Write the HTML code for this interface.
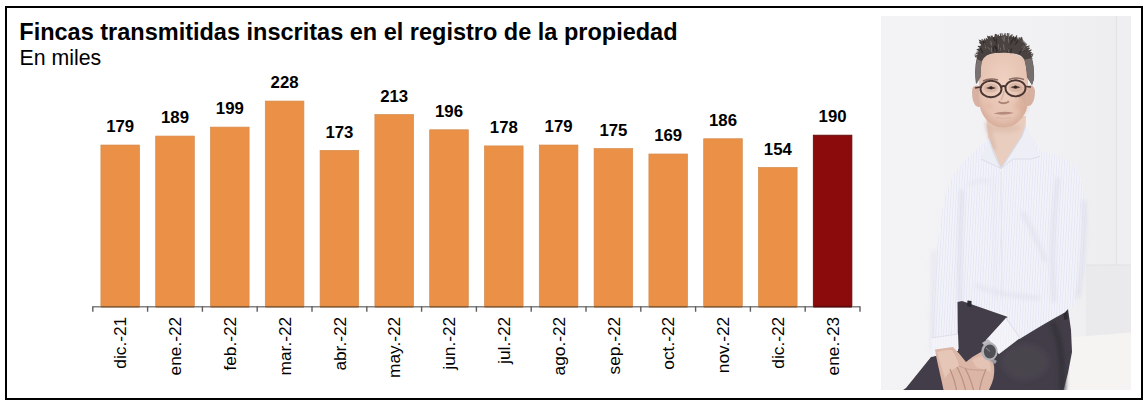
<!DOCTYPE html>
<html><head><meta charset="utf-8"><style>
html,body{margin:0;padding:0;background:#fff;}
body{width:1148px;height:406px;overflow:hidden;position:relative;}
svg{position:absolute;left:0;top:0;}
text{font-family:"Liberation Sans",sans-serif;}
</style></head><body>
<svg width="1148" height="406" viewBox="0 0 1148 406">
<rect x="0" y="0" width="1148" height="406" fill="#fff"/>
<rect x="6" y="7" width="1136" height="392" fill="none" stroke="#000" stroke-width="2"/>
<text x="19.3" y="39.8" font-size="23.5" font-weight="bold" fill="#000">Fincas transmitidas inscritas en el registro de la propiedad</text>
<text x="19.6" y="64.6" font-size="21.3" fill="#000">En miles</text>
<g id="bars">
<rect x="100.90" y="145.04" width="38.6" height="161.16" fill="#EB9047" stroke="#d48a4c" stroke-width="0.7"/>
<rect x="155.70" y="136.07" width="38.6" height="170.13" fill="#EB9047" stroke="#d48a4c" stroke-width="0.7"/>
<rect x="210.50" y="127.10" width="38.6" height="179.10" fill="#EB9047" stroke="#d48a4c" stroke-width="0.7"/>
<rect x="265.30" y="101.08" width="38.6" height="205.12" fill="#EB9047" stroke="#d48a4c" stroke-width="0.7"/>
<rect x="320.10" y="150.42" width="38.6" height="155.78" fill="#EB9047" stroke="#d48a4c" stroke-width="0.7"/>
<rect x="374.90" y="114.54" width="38.6" height="191.66" fill="#EB9047" stroke="#d48a4c" stroke-width="0.7"/>
<rect x="429.70" y="129.79" width="38.6" height="176.41" fill="#EB9047" stroke="#d48a4c" stroke-width="0.7"/>
<rect x="484.50" y="145.93" width="38.6" height="160.27" fill="#EB9047" stroke="#d48a4c" stroke-width="0.7"/>
<rect x="539.30" y="145.04" width="38.6" height="161.16" fill="#EB9047" stroke="#d48a4c" stroke-width="0.7"/>
<rect x="594.10" y="148.63" width="38.6" height="157.57" fill="#EB9047" stroke="#d48a4c" stroke-width="0.7"/>
<rect x="648.90" y="154.01" width="38.6" height="152.19" fill="#EB9047" stroke="#d48a4c" stroke-width="0.7"/>
<rect x="703.70" y="138.76" width="38.6" height="167.44" fill="#EB9047" stroke="#d48a4c" stroke-width="0.7"/>
<rect x="758.50" y="167.46" width="38.6" height="138.74" fill="#EB9047" stroke="#d48a4c" stroke-width="0.7"/>
<rect x="813.30" y="135.17" width="38.6" height="171.03" fill="#8B0B0C" stroke="#5e0808" stroke-width="0.8"/>
</g>
<path d="M92.8 306.8H860.00" stroke="#828282" stroke-width="1.4" fill="none"/>
<path d="M100.90 306.8H139.50 M155.70 306.8H194.30 M210.50 306.8H249.10 M265.30 306.8H303.90 M320.10 306.8H358.70 M374.90 306.8H413.50 M429.70 306.8H468.30 M484.50 306.8H523.10 M539.30 306.8H577.90 M594.10 306.8H632.70 M648.90 306.8H687.50 M703.70 306.8H742.30 M758.50 306.8H797.10" stroke="#8f5c30" stroke-width="1.4" fill="none"/>
<path d="M813.30 306.8H851.90" stroke="#5a0a0a" stroke-width="1.4" fill="none"/>
<path d="M92.80 306.2V311.8 M147.60 306.2V311.8 M202.40 306.2V311.8 M257.20 306.2V311.8 M312.00 306.2V311.8 M366.80 306.2V311.8 M421.60 306.2V311.8 M476.40 306.2V311.8 M531.20 306.2V311.8 M586.00 306.2V311.8 M640.80 306.2V311.8 M695.60 306.2V311.8 M750.40 306.2V311.8 M805.20 306.2V311.8 M860.00 306.2V311.8" stroke="#5e5e5e" stroke-width="1.4" fill="none"/>
<g font-size="16.8" font-weight="bold" text-anchor="middle" fill="#000">
<text x="120.20" y="132.14">179</text>
<text x="175.00" y="123.17">189</text>
<text x="229.80" y="114.20">199</text>
<text x="284.60" y="88.18">228</text>
<text x="339.40" y="137.52">173</text>
<text x="394.20" y="101.64">213</text>
<text x="449.00" y="116.89">196</text>
<text x="503.80" y="133.03">178</text>
<text x="558.60" y="132.14">179</text>
<text x="613.40" y="135.73">175</text>
<text x="668.20" y="141.11">169</text>
<text x="723.00" y="125.86">186</text>
<text x="777.80" y="154.56">154</text>
<text x="832.60" y="122.27">190</text>
</g>
<g font-size="17.3" text-anchor="end" fill="#000">
<text transform="translate(126.40,316.8) rotate(-90)">dic.-21</text>
<text transform="translate(181.20,316.8) rotate(-90)">ene.-22</text>
<text transform="translate(236.00,316.8) rotate(-90)">feb.-22</text>
<text transform="translate(290.80,316.8) rotate(-90)">mar.-22</text>
<text transform="translate(345.60,316.8) rotate(-90)">abr.-22</text>
<text transform="translate(400.40,316.8) rotate(-90)">may.-22</text>
<text transform="translate(455.20,316.8) rotate(-90)">jun.-22</text>
<text transform="translate(510.00,316.8) rotate(-90)">jul.-22</text>
<text transform="translate(564.80,316.8) rotate(-90)">ago.-22</text>
<text transform="translate(619.60,316.8) rotate(-90)">sep.-22</text>
<text transform="translate(674.40,316.8) rotate(-90)">oct.-22</text>
<text transform="translate(729.20,316.8) rotate(-90)">nov.-22</text>
<text transform="translate(784.00,316.8) rotate(-90)">dic.-22</text>
<text transform="translate(838.80,316.8) rotate(-90)">ene.-23</text>
</g>
<!--PHOTO-->
<g id="photo">
<defs>
<clipPath id="pc"><rect x="881" y="16" width="250" height="374"/></clipPath>
<filter id="bl" x="-5%" y="-5%" width="110%" height="110%"><feGaussianBlur stdDeviation="0.7"/></filter>
<filter id="bl2" filterUnits="userSpaceOnUse" x="870" y="0" width="280" height="406"><feGaussianBlur stdDeviation="2"/></filter>
<linearGradient id="wall" x1="0" y1="0" x2="1" y2="0">
<stop offset="0" stop-color="#f3f3f6"/><stop offset="0.7" stop-color="#f1f1f4"/><stop offset="1" stop-color="#ececef"/>
</linearGradient>
<pattern id="stripes" width="2.6" height="10" patternUnits="userSpaceOnUse" patternTransform="rotate(3)">
<rect width="2.6" height="10" fill="#f2f2f9"/><rect width="0.6" height="10" fill="#e1e3f2"/>
</pattern>
<radialGradient id="skin" cx="0.5" cy="0.4" r="0.6">
<stop offset="0" stop-color="#efd1c2"/><stop offset="0.8" stop-color="#e6c3b2"/><stop offset="1" stop-color="#d9ae9c"/>
</radialGradient>
</defs>
<g clip-path="url(#pc)">
<rect x="881" y="16" width="250" height="374" fill="url(#wall)"/>
<rect x="1117" y="16" width="14" height="320" fill="#efeff1"/>
<rect x="1116" y="16" width="1.2" height="320" fill="#e3e3e6"/>
<rect x="1086" y="265" width="45" height="72" fill="#eaeaed"/>
<rect x="1086" y="264.5" width="45" height="1" fill="#e2e2e5"/>
<!-- bench -->
<path d="M1062 338 L1131 332.5 L1131 390 L1055 390 Z" fill="#f5f4f2"/>
<g filter="url(#bl)">
<!-- neck -->
<path d="M986 116 L1026 116 L1025.5 128 L1022 136 L1001 168.5 L988.5 140 Z" fill="#e9cebf"/>
<ellipse cx="1004" cy="128" rx="17" ry="4.5" fill="#d6b19f" opacity="0.45" filter="url(#bl2)"/>
<path d="M987 122 Q990 134 994 150" stroke="#d6b2a2" stroke-width="3" fill="none" filter="url(#bl2)"/>
<!-- shirt body -->
<path d="M988.5 138 L960 165 Q948 180 943.5 202 Q936 245 932 300 L931 357 L958 351 L960 307 L1000 312 L1065 310 L1071 308 Q1080 300 1084 262 Q1088 220 1084 190 Q1078 168 1068 160 L1040 150 L1025.5 126 L1022 136 L1001 168.5 Z" fill="url(#stripes)"/>
<!-- collar -->
<path d="M988.5 138 L981 159 L1001 168.5 L994 154 Z" fill="#eceef6"/>
<path d="M988.5 138 L994 154 L1001 168.5" stroke="#dadbe6" stroke-width="1.2" fill="none"/>
<path d="M1025.5 126 L1040 156.5 L1031 159 L1013 159 L1001 168.5 L1022 136 Z" fill="#edeef6"/>
<path d="M1025.5 126 L1022 136 L1001 168.5" stroke="#d8d9e5" stroke-width="1.2" fill="none"/>
<path d="M981 159 L1001 168.5 L1013 159 L1031 159 L1040 156.5" stroke="#dcdde8" stroke-width="1" fill="none"/>
<path d="M994 175 L995 300" stroke="#e2e3ee" stroke-width="1.2" fill="none" filter="url(#bl2)"/>
<path d="M1001 172 L1002 300" stroke="#e4e5ef" stroke-width="1" fill="none"/>
<path d="M1022 212 Q1034 232 1046 262" stroke="#dfe0eb" stroke-width="3" fill="none" filter="url(#bl2)"/>
<path d="M975 285 Q1000 296 1040 298" stroke="#e0e1ec" stroke-width="3" fill="none" filter="url(#bl2)"/>
<path d="M968 185 Q980 178 990 182" stroke="#e3e4ee" stroke-width="2.5" fill="none" filter="url(#bl2)"/>
<path d="M962 190 Q959 250 960 306" stroke="#d9dbe7" stroke-width="3" fill="none" filter="url(#bl2)"/>
<path d="M934 250 Q933 300 932 350" stroke="#dfe0ea" stroke-width="2.5" fill="none" filter="url(#bl2)"/>
<path d="M1058 178 Q1050 240 1054 302" stroke="#dcdde9" stroke-width="3" fill="none" filter="url(#bl2)"/>
<path d="M1084 200 Q1086 250 1078 298" stroke="#dadbe6" stroke-width="3" fill="none" filter="url(#bl2)"/>
<!-- trousers -->
<path d="M957.5 302 L962 301 L1008 317 L1068 309 L1071 330 L1072 352 L1068 373 L1063 392 L900 392 L906 388 L931 357 L958 351 Z" fill="#423e48"/>
<ellipse cx="1025" cy="362" rx="24" ry="18" fill="#4b4751" opacity="0.7" filter="url(#bl2)"/>
<path d="M1052 322 Q1064 345 1062 392" stroke="#36333b" stroke-width="6" fill="none" filter="url(#bl2)"/>
<path d="M967 306 L967.5 300.5 L971.5 301 L971.5 307.5 Z" fill="#2c2a30"/>
<path d="M1063 310 L1067 309 L1068 319 L1064 320 Z" fill="#2e2c33"/>
<!-- right sleeve over trousers -->
<path d="M995 300 L1070 305 L1068 309 Q1066 311 1064.8 312.5 Q1047 322 1019.5 339 L1006 318 L1008 317 Z" fill="url(#stripes)"/>
<!-- right cuff -->
<path d="M986 340 L1006 318 L1020 338 L999 354 Z" fill="url(#stripes)"/>
<path d="M986 340 L1006 318 L1020 338 L999 354 Z" fill="#f6f6fa" opacity="0.5"/>
<path d="M1006 318 L1020 338" stroke="#dcdde8" stroke-width="1" fill="none"/>
<!-- left cuff -->
<path d="M931 338 L958 334 L958.5 349 L932 356.5 Z" fill="url(#stripes)"/>
<path d="M931 338 L958 334 L958.5 349 L932 356.5 Z" fill="#f6f6fa" opacity="0.5"/>
<path d="M931 338 L958 334" stroke="#dfe0ea" stroke-width="1" fill="none"/>
<!-- hands -->
<path d="M935 349.4 L953 347 Q960 354 966 362 Q973 356 981 352 L985 354 Q991 357 993 361 Q996 372 992 383 L988 392 L944 392 Q941 378 938 365 Q936 356 935 349.4 Z" fill="#dbb6a6"/>
<path d="M937 352 Q945 349.5 952 350 Q957 357 959 366 Q951 369 945 378 Q941 366 937 352 Z" fill="#e6c6b7"/>
<path d="M972 360 Q980 355 986 357 Q991 362 991 372 Q984 370 976 367 Z" fill="#e4c3b4"/>
<path d="M950 369 Q955 380 957 392 M957 367 Q963 378 966 392 M965 368 Q971 379 974 392 M986 369 Q981 380 979 392" stroke="#bb907f" stroke-width="1.2" fill="none"/>
<path d="M959 366 Q968 371 985 370" stroke="#c89e8e" stroke-width="1" fill="none"/>
<!-- watch -->
<path d="M982 343 L988 339 L992 343 L986 347 Z" fill="#bdbdc1"/>
<path d="M992 358 L997 361 L995 364 L990 361 Z" fill="#9a9aa0"/>
<ellipse cx="989.5" cy="351.5" rx="8.2" ry="9.3" fill="#b2b2b6"/>
<ellipse cx="989.8" cy="351.5" rx="6" ry="7" fill="#4f4f57"/>
<path d="M986 348 L990 351.5" stroke="#9a9aa2" stroke-width="0.8"/>
</g>
<!-- head -->
<g filter="url(#bl)">
<!-- ears -->
<path d="M979 86 Q972 84 972 92 Q972 102 976 106 Q979 108 981 106 Z" fill="#d7b1a1"/>
<path d="M1027 86 Q1034 83 1035 91 Q1035 101 1031 105 Q1028 107 1026 105 Z" fill="#d7b1a1"/>
<!-- face -->
<path d="M979 70 Q979 53 1003 52 Q1027 53 1028 70 L1028 100 Q1027.5 111 1022 118 Q1014 127.5 1003 127.5 Q992 127.5 985 118 Q979.5 111 979 100 Z" fill="url(#skin)"/>
<path d="M1018 95 Q1026 100 1024 112 Q1020 120 1012 125 Q1022 118 1027 105 L1028 92 Z" fill="#d9b6a6" opacity="0.8"/>
<ellipse cx="1023" cy="100" rx="5" ry="14" fill="#d2a690" opacity="0.55" filter="url(#bl2)"/>
<ellipse cx="988" cy="106" rx="5" ry="4" fill="#e4b4a3" opacity="0.5" filter="url(#bl2)"/>
<ellipse cx="1018" cy="106" rx="5" ry="4" fill="#dfae9c" opacity="0.5" filter="url(#bl2)"/>
<!-- hair -->
<path d="M976 84 Q974 68 977 57 Q979 47 983.4 40.6 Q989 38 995 36.8 Q1000 35.6 1005 35.8 Q1011 36.2 1015.2 37.8 Q1020 39.5 1023.6 42.8 Q1027 46 1028.8 50.5 Q1031 54 1032 58.2 Q1034.5 67 1034 79 L1032 85 L1027 77 Q1026.5 66 1024.4 59.8 Q1022 56.5 1020.3 55.6 Q1017 54 1013.6 53.5 Q1008 52.6 1003.5 52.7 Q999 52.8 995.1 53.1 Q990 54 986.8 55.6 Q983 58 981.7 61.5 Q980.3 67 980.5 76 Z" fill="#4a4240"/>
<path d="M981 44 L978.5 39.5 L985 41.5 Z M988 39.5 L987 35.5 L992 38 Z M1019 40 L1022 36.5 L1023 41.5 Z" fill="#4a4240"/>
<path d="M978.5 57.3L975.4 56.6 M978.8 55.7L974.9 55.0 M979.2 54.2L976.1 53.2 M979.6 52.7L977.1 51.9 M980.0 51.2L977.1 49.5 M980.5 49.7L978.2 49.1 M981.1 48.2L979.0 47.0 M981.7 46.8L978.3 46.4 M982.4 45.3L979.7 42.5 M983.1 44.0L980.2 42.0 M983.9 42.6L981.5 41.8 M984.2 41.9L982.1 39.5 M985.6 41.3L984.3 39.0 M987.1 40.7L986.2 38.5 M988.6 40.1L988.2 37.1 M990.1 39.6L989.4 36.5 M991.6 39.2L991.0 36.0 M993.1 38.8L992.0 35.9 M994.6 38.4L995.3 34.5 M996.2 38.1L996.0 34.3 M997.8 37.8L996.9 35.1 M999.3 37.5L998.3 35.0 M1000.8 37.4L1000.3 33.7 M1002.4 37.3L1002.0 33.5 M1004.0 37.3L1005.1 33.5 M1005.5 37.3L1005.4 35.1 M1007.1 37.5L1007.4 33.6 M1008.6 37.7L1008.9 33.6 M1010.2 38.0L1010.8 35.6 M1011.7 38.3L1012.0 34.6 M1013.2 38.7L1013.7 36.3 M1014.6 39.2L1016.7 35.8 M1016.1 39.7L1016.8 37.4 M1017.5 40.4L1018.1 38.1 M1018.8 41.1L1019.9 37.6 M1020.1 41.9L1021.9 39.1 M1021.3 42.8L1023.2 41.0 M1022.5 43.8L1024.3 42.1 M1023.5 44.9L1025.3 43.1 M1024.5 46.0L1026.4 44.1 M1025.4 47.2L1029.1 45.9 M1026.2 48.5L1028.9 47.7 M1026.9 49.9L1029.3 48.6 M1027.6 51.5L1031.1 49.9 M1028.4 52.8L1030.7 52.2 M1029.1 54.2L1031.4 52.8 M1029.6 55.6L1032.9 53.9 M1030.1 57.0L1032.5 55.7 M1032.0 58.2L1032.0 58.2" stroke="#4a4240" stroke-width="1.1" stroke-linecap="round" fill="none"/>
<path d="M993.2 47.6L991.6 44.4 M1023.8 51.1L1025.1 48.4 M1022.6 47.7L1024.0 45.3 M993.8 51.2L993.0 48.1 M1007.7 51.6L1008.4 48.5 M1008.3 40.1L1008.5 35.4 M982.8 52.6L980.3 48.4 M985.5 46.7L983.5 42.4 M998.2 49.0L998.8 44.3 M1010.7 44.1L1011.9 40.3 M1015.5 44.2L1017.6 40.9 M1004.1 41.7L1004.7 38.0 M995.8 48.9L994.4 46.3 M997.0 48.7L995.4 45.5 M1008.8 43.1L1008.3 39.4 M994.7 40.7L993.6 37.7 M996.5 51.4L997.0 47.8 M1002.9 38.4L1003.6 35.4 M1019.1 53.3L1021.0 51.0 M1014.9 40.9L1015.5 37.6 M1000.1 50.7L1000.6 48.0 M1010.8 52.6L1011.3 48.7 M1012.0 41.3L1013.9 37.2 M1027.1 53.6L1030.3 50.5 M985.8 45.1L983.4 41.3 M997.4 50.6L996.0 48.1 M992.2 46.4L989.9 42.8 M996.3 44.1L996.4 39.3 M1008.4 41.2L1009.0 37.5" stroke="#2f2826" stroke-width="1.1" stroke-linecap="round" fill="none"/>
<path d="M1008.4 51.9L1008.1 49.0 M1022.6 47.7L1024.0 45.3 M990.1 49.5L987.8 47.4 M1008.3 40.1L1008.5 35.4 M1004.2 49.7L1003.5 44.7 M998.2 49.0L998.8 44.3 M985.7 48.2L984.7 43.6 M1004.1 41.7L1004.7 38.0 M1023.7 48.6L1026.4 44.7 M1008.8 43.1L1008.3 39.4 M991.8 44.6L990.7 41.1 M1002.9 38.4L1003.6 35.4 M1003.9 40.9L1002.4 37.5 M1000.1 50.7L1000.6 48.0 M1022.4 50.7L1025.5 48.7 M1027.1 53.6L1030.3 50.5 M1004.4 38.5L1005.1 35.9 M992.2 46.4L989.9 42.8 M991.6 51.6L991.4 47.8" stroke="#7d7573" stroke-width="0.8" stroke-linecap="round" fill="none"/>
<path d="M976.5 84 Q974.5 70 977 59 L981.7 61.5 Q980.5 68 980.8 77 Z" fill="#7a7270"/>
<path d="M1034 79 Q1034 66 1031.5 58 L1024.4 59.8 Q1026.5 66 1027.3 77 L1032 85 Z" fill="#766e6c"/>
<!-- eyebrows -->
<path d="M983 81 Q990 77.5 998 80" stroke="#8a6c62" stroke-width="1.4" fill="none"/>
<path d="M1009 79.5 Q1016 76.5 1024 79.5" stroke="#8a6c62" stroke-width="1.4" fill="none"/>
<ellipse cx="991" cy="88" rx="7" ry="4.5" fill="#cfa898" opacity="0.6"/>
<ellipse cx="1015.5" cy="87.5" rx="7" ry="4.5" fill="#cfa898" opacity="0.6"/>
<!-- eyes -->
<path d="M986 88 Q991 84.8 996 88 Q991 90.5 986 88 Z" fill="#5a423b"/><circle cx="991" cy="87.8" r="1.5" fill="#2e2220"/>
<path d="M1010.5 87.3 Q1015.5 84.3 1020.5 87.3 Q1015.5 89.8 1010.5 87.3 Z" fill="#5a423b"/><circle cx="1015.5" cy="87.1" r="1.5" fill="#2e2220"/>
<!-- glasses -->
<ellipse cx="991" cy="89" rx="10.5" ry="8.3" fill="none" stroke="#4a3530" stroke-width="1.9"/>
<ellipse cx="1015.5" cy="88.3" rx="10" ry="8.1" fill="none" stroke="#4a3530" stroke-width="1.9"/>
<path d="M1001.5 86.8 Q1003.5 85.2 1005.5 86.8" stroke="#4a3530" stroke-width="1.8" fill="none"/>
<path d="M980.5 87 L975 88" stroke="#4a3530" stroke-width="1.6"/>
<path d="M1025.5 86.5 L1031 87" stroke="#4a3530" stroke-width="1.6"/>
<!-- nose -->
<path d="M1004 91 Q1003 97 1001 100" stroke="#d4b1a2" stroke-width="1.5" fill="none"/>
<path d="M998.5 101.5 Q1003 105 1009 101.5" stroke="#ad8575" stroke-width="1.8" fill="none"/>
<!-- mouth -->
<path d="M993.5 113.5 Q1003 110.5 1014 113 Q1003 116 993.5 113.5 Z" fill="#b78a7e"/>
<path d="M996 117.5 Q1003 119.5 1011 117.5" stroke="#dcb8aa" stroke-width="1.5" fill="none"/>
</g>
</g>
</g>
</g>

</svg>
</body></html>
